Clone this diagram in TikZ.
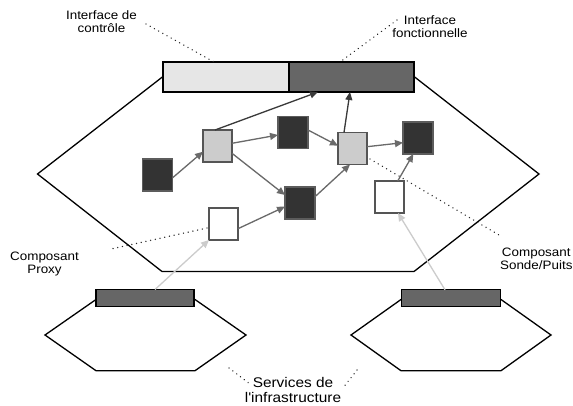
\documentclass[tikz,border=0pt]{standalone}
\usepackage{fontspec}
\newfontfamily\labfont[FakeStretch=1.1]{Liberation Sans}
\usetikzlibrary{arrows.meta}
\definecolor{boxdark}{HTML}{333333}
\definecolor{boxlight}{HTML}{CCCCCC}
\definecolor{boxedge}{HTML}{555555}
\definecolor{barlight}{HTML}{E6E6E6}
\definecolor{bardark}{HTML}{666666}
\definecolor{arrmid}{HTML}{6A6A6A}
\definecolor{arrdark}{HTML}{3A3A3A}
\definecolor{arrpale}{HTML}{CCCCCC}
\begin{document}
\begin{tikzpicture}[x=1pt,y=-1pt,
  hexline/.style={draw=black,line width=1.3pt,fill=white,line join=miter},
  barbox/.style={draw=black,line width=1.5pt,inner sep=0pt,outer sep=0pt,minimum height=30pt},
  smallbar/.style={draw=black,line width=1.3pt,fill=bardark,inner sep=0pt,outer sep=0pt,minimum width=98pt,minimum height=17pt},
  comp/.style={line width=1.5pt,draw=boxedge,inner sep=0pt,outer sep=0pt,minimum width=29pt,minimum height=32pt},
  compdark/.style={comp,fill=boxdark,draw=boxdark!80!white,minimum width=30pt},
  complight/.style={comp,fill=boxlight},
  compwhite/.style={comp,fill=white},
  arrtip/.style={-{Triangle[length=8pt,width=7pt]}},
  arrm/.style={arrtip,draw=arrmid,fill=arrmid,line width=1.3pt},
  arrd/.style={arrtip,draw=arrdark,fill=arrdark,line width=1.3pt},
  arrp/.style={arrtip,draw=arrpale,fill=arrpale,line width=1.3pt},
  leader/.style={draw=black!85,line width=1.5pt,line cap=round,dash pattern=on 0.01pt off 4.8pt},
  lab/.style={font=\labfont\fontsize{12.2}{13.2}\selectfont,align=center,inner sep=0pt},
  biglab/.style={font=\labfont\fontsize{14}{15}\selectfont,align=center,inner sep=0pt}
]
\useasboundingbox (0,0) rectangle (573,405);
\fill[white] (0,0) rectangle (573,405);

% main component hexagon
\draw[hexline] (163,76.5) -- (414,76.5) -- (539,174) -- (414,271.5) -- (162,271.5) -- (37.5,174) -- cycle;
\node[barbox,fill=barlight,minimum width=126pt] (ctrl) at (226,77) {};
\node[barbox,fill=bardark,minimum width=125pt] (func) at (351.5,77) {};

% infrastructure services
\draw[hexline] (96,299.5) -- (195,299.5) -- (246,335) -- (195,370.7) -- (96,370.7) -- (45,335) -- cycle;
\draw[hexline] (401,299.5) -- (501,299.5) -- (551,335) -- (501,370.7) -- (401,370.7) -- (351,335) -- cycle;
\node[smallbar] (lbar) at (145,298) {};
\node[smallbar,minimum width=99pt] (rbar) at (451,298.3) {};

% sub-components
\node[compdark] (A) at (157.7,175) {};
\node[complight] (B) at (217.5,146) {};
\node[compdark] (C) at (293,132.5) {};
\node[complight] (D) at (352.5,148.5) {};
\node[compdark] (E) at (418,138) {};
\node[compdark] (F) at (300,203) {};
\node[compwhite] (G) at (223.5,224) {};
\node[compwhite] (H) at (389.5,197) {};

% connections
\draw[arrm] ([yshift=-2.7pt]A.east) -- ([yshift=-5.7pt]B.west);
\draw[arrm] ([yshift=2.7pt]B.east) -- ([yshift=-2.5pt]C.west);
\draw[arrm] ([yshift=-7.3pt]B.east) -- ([yshift=8pt]F.west);
\draw[arrd] ([xshift=-2.5pt]B.north) -- ([xshift=-33.5pt]func.south);
\draw[arrm] ([yshift=2.5pt]C.east) -- ([yshift=2.8pt]D.west);
\draw[arrm] ([yshift=6.3pt]F.east) -- ([xshift=-2.5pt]D.south);
\draw[arrm] ([yshift=1.8pt]D.east) -- ([yshift=-4.7pt]E.west);
\draw[arrd] ([xshift=-8.5pt]D.north) -- ([xshift=-1.5pt]func.south);
\draw[arrm] ([yshift=-4.7pt]G.east) -- ([yshift=-3.7pt]F.west);
\draw[arrm] ([xshift=8.2pt]H.north) -- ([xshift=-4.7pt]E.south);
\draw[arrp] ([xshift=10pt]lbar.north) -- (G.south west);
\draw[arrp] ([xshift=-6pt]rbar.north) -- ([xshift=8.5pt]H.south);

% labels
\node[lab] (lctrl) at (101.5,22) {Interface de\\contrôle};
\node[lab] (lfunc) at (430,27) {Interface\\fonctionnelle};
\node[lab] (lproxy) at (44.5,264) {Composant\\Proxy};
\node[lab] (lsonde) at (536.3,258.5) {Composant\\Sonde/Puits};
\node[biglab] (lserv) at (293,390) {Services de\\l'infrastructure};

% leader lines
\coordinate (pctrl) at (146,24);
\coordinate (pfunc) at (397,20);
\coordinate (pproxy) at (111,249);
\coordinate (psonde) at (499,235);
\coordinate (psonde0) at (370,159);
\coordinate (pproxy0) at (207,228);
\coordinate (ps1a) at (229,368);
\coordinate (ps1b) at (250,384);
\coordinate (ps2a) at (357,370);
\coordinate (ps2b) at (343,388);
\draw[leader] (pctrl) -- ([xshift=-12pt]ctrl.north);
\draw[leader] (pfunc) -- ([xshift=-11.5pt]func.north);
\draw[leader] (pproxy0) -- (pproxy);
\draw[leader] (psonde0) -- (psonde);
\draw[leader] (ps1a) -- (ps1b);
\draw[leader] (ps2a) -- (ps2b);
\end{tikzpicture}
\end{document}
